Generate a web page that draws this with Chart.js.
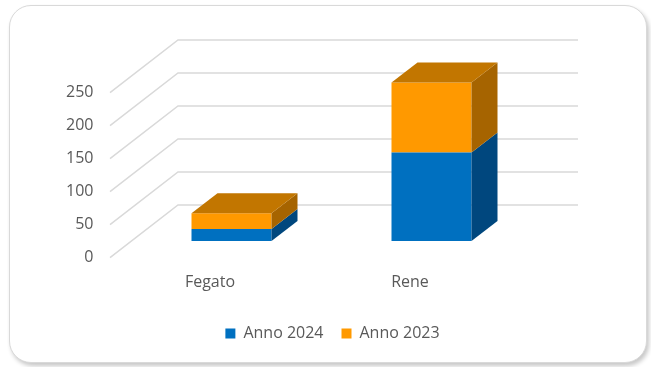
<!DOCTYPE html>
<html>
<head>
<meta charset="utf-8">
<title>Fegato / Rene</title>
<style>
  html, body { margin: 0; padding: 0; background: #fff; }
  .frame {
    position: absolute; left: 9px; top: 5px; width: 636px; height: 356px;
    border: 1.5px solid #d9d9d9; border-radius: 22px; background: #fff;
    box-shadow: 2px 3px 4px rgba(0, 0, 0, 0.22);
  }
  .wrap { position: absolute; left: 0; top: 0; width: 651px; height: 367px; }
</style>
</head>
<body>
<div class="frame"></div>
<div class="wrap">
  <canvas id="organChart" width="651" height="367"></canvas>
</div>

<script src="https://cdn.jsdelivr.net/npm/chart.js"></script>
<script>
  const categories = ['Fegato', 'Rene'];
  const anno2024 = [18, 134];
  const anno2023 = [24, 106];
  const yTicks = [0, 50, 100, 150, 200, 250];

  // oblique 3D offsets, measured from the plane the bar fronts sit in
  const FRONT = { x: -21.5, y: 16.7 };
  const BACK = { x: 46.5, y: -36 };
  const DEPTH = { x: 26, y: -20 };

  const GRID = '#d9d9d9';
  const TEXT = '#595959';

  function poly(ctx, pts) {
    ctx.beginPath();
    ctx.moveTo(pts[0][0], pts[0][1]);
    for (let k = 1; k < pts.length; k++) ctx.lineTo(pts[k][0], pts[k][1]);
    ctx.closePath();
    ctx.fill();
  }

  const box3d = {
    id: 'box3d',
    // floor/back wall gridlines go behind the bars
    beforeDatasetsDraw(chart) {
      const { ctx, chartArea: a, scales: { y } } = chart;
      ctx.save();
      ctx.strokeStyle = GRID;
      ctx.lineWidth = 1.5;
      yTicks.forEach(v => {
        const py = y.getPixelForValue(v);
        ctx.beginPath();
        ctx.moveTo(a.left + FRONT.x, py + FRONT.y);
        ctx.lineTo(a.left + BACK.x, py + BACK.y);
        ctx.lineTo(a.right + BACK.x, py + BACK.y);
        ctx.stroke();
      });
      ctx.restore();
    },
    // side and top faces of each stacked box
    afterDatasetsDraw(chart) {
      const { ctx } = chart;
      const sets = chart.data.datasets;
      ctx.save();
      for (let j = 0; j < chart.data.labels.length; j++) {
        sets.forEach((ds, i) => {
          const bar = chart.getDatasetMeta(i).data[j];
          const l = bar.x - bar.width / 2, r = bar.x + bar.width / 2;
          const top = bar.y, bot = bar.base;
          ctx.fillStyle = ds.sideColor;
          poly(ctx, [[r, top], [r + DEPTH.x, top + DEPTH.y], [r + DEPTH.x, bot + DEPTH.y], [r, bot]]);
          if (i === sets.length - 1) {
            ctx.fillStyle = ds.topColor;
            poly(ctx, [[l, top], [l + DEPTH.x, top + DEPTH.y], [r + DEPTH.x, top + DEPTH.y], [r, top]]);
          }
        });
      }
      ctx.restore();
    }
  };

  Chart.defaults.font.family = "'Open Sans', sans-serif";
  Chart.defaults.font.size = 16;
  Chart.defaults.color = TEXT;

  new Chart(document.getElementById('organChart'), {
    type: 'bar',
    data: {
      labels: categories,
      datasets: [
        {
          label: 'Anno 2024',
          data: anno2024,
          backgroundColor: '#0070c0',
          sideColor: '#00477e',
          topColor: '#005a9a'
        },
        {
          label: 'Anno 2023',
          data: anno2023,
          backgroundColor: '#ff9900',
          sideColor: '#a66400',
          topColor: '#c27600'
        }
      ]
    },
    options: {
      responsive: false,
      devicePixelRatio: 1,
      animation: false,
      layout: { padding: { left: 14, right: 0, top: 76, bottom: 15.5 } },
      datasets: { bar: { barPercentage: 0.4, categoryPercentage: 1, borderWidth: 0 } },
      plugins: {
        legend: {
          position: 'bottom',
          labels: { boxWidth: 10, boxHeight: 10, padding: 18, color: TEXT }
        },
        tooltip: { enabled: false }
      },
      scales: {
        x: {
          stacked: true,
          grid: { display: false, drawTicks: false },
          border: { display: false },
          ticks: { padding: 32, labelOffset: FRONT.x },
          afterFit(s) { s.height = 66.5; }
        },
        y: {
          stacked: true,
          min: 0,
          max: 250,
          grid: { display: false, drawTicks: false },
          border: { display: false },
          ticks: { stepSize: 50, padding: 38, labelOffset: FRONT.y },
          afterFit(s) { s.width = 117.5; }
        },
        // empty right axis keeps room for the back wall
        yRight: {
          position: 'right',
          grid: { display: false, drawTicks: false },
          border: { display: false },
          ticks: { display: false },
          afterFit(s) { s.width = 119.5; }
        }
      }
    },
    plugins: [box3d]
  });
</script>
</body>
</html>
